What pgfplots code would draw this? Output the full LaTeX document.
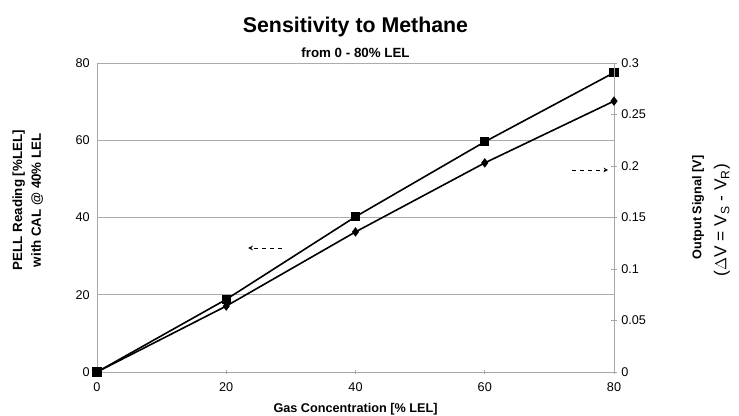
\documentclass[border=0pt]{standalone}
\usepackage{pgfplots}
\pgfplotsset{compat=1.18}
\usepackage{fontspec}
\setmainfont{Liberation Sans}
\usetikzlibrary{calc}
\begin{document}
\begin{tikzpicture}
\pgfplotsset{every axis/.append style={scale only axis, width=387.75pt, height=231.75pt,
  tick label style={font=\fontsize{9.5}{10}\selectfont}, /pgf/number format/assume math mode=true}}
\begin{axis}[name=ax,
  xmin=0, xmax=80, ymin=0, ymax=80,
  xtick={0,20,40,60,80}, ytick={0,20,40,60,80},
  axis x line*=bottom, axis y line*=left,
  axis line style={gray!70, line width=0.7pt, -},
  ymajorgrids, grid style={gray!65, line width=0.7pt},
  major tick length=3pt,
  xtick style={gray!70, line width=0.6pt}, ytick style={draw=none},
  xtick align=center,
  xticklabel style={yshift=-3pt},
  yticklabel style={xshift=-2pt},
  clip=false,
]
\addplot[black, line width=1.2pt, mark=square*, mark size=2.8pt] coordinates {
  (0,0) (20,18.8) (40,40.2) (60,59.6) (80,77.5)};
\draw[black, dashed, ->, >=stealth, line width=0.6pt] (axis cs:28.6,32.1) -- (axis cs:23.4,32.1);
\draw[black, dashed, ->, >=stealth, line width=0.6pt] (axis cs:73.5,52.3) -- (axis cs:79.1,52.3);
\node[font=\fontsize{9.5}{10}\selectfont\bfseries] at ($(rel axis cs:0.5,0)+(0,-28pt)$) {Gas Concentration [\% LEL]};
\node[rotate=90, align=center, font=\fontsize{10}{14}\selectfont\bfseries] at ($(rel axis cs:0,0.5)+(-52pt,13pt)$) {PELL Reading [\%LEL]\\with CAL @ 40\% LEL};
\end{axis}
\begin{axis}[
  xmin=0, xmax=80, ymin=0, ymax=0.3,
  axis x line=none, axis y line*=right,
  axis line style={gray!70, line width=0.7pt, -},
  ytick={0,0.05,0.1,0.15,0.2,0.25,0.3},
  yticklabel style={/pgf/number format/fixed, /pgf/number format/precision=2},
  major tick length=4pt, ytick align=center,
  ytick style={gray!70, line width=0.6pt},
  clip=false,
]
\addplot[black, line width=1.2pt, mark=diamond*, mark size=2.6pt] coordinates {
  (0,0) (20,0.064) (40,0.136) (60,0.203) (80,0.263)};
\node[rotate=90, font=\fontsize{9.5}{10}\selectfont\bfseries] at ($(rel axis cs:1,0.5)+(63pt,7.5pt)$) {Output Signal [V]};
\node[rotate=90, font=\fontsize{13}{15}\selectfont] at ($(rel axis cs:1,0.5)+(81pt,-2pt)$) {($\Delta$V = V$_\mathrm{S}$ - V$_\mathrm{R}$)};
\node[font=\fontsize{16}{18}\selectfont\bfseries] at ($(rel axis cs:0.5,1)+(0,27pt)$) {Sensitivity to Methane};
\node[font=\fontsize{10}{10}\selectfont\bfseries] at ($(rel axis cs:0.5,1)+(0,7.5pt)$) {from 0 - 80\% LEL};
\end{axis}
\pgfresetboundingbox
\path[use as bounding box] ($(ax.south west)+(-72.75pt,-33pt)$) rectangle ($(ax.north east)+(93.75pt,47.25pt)$);
\end{tikzpicture}
\end{document}
